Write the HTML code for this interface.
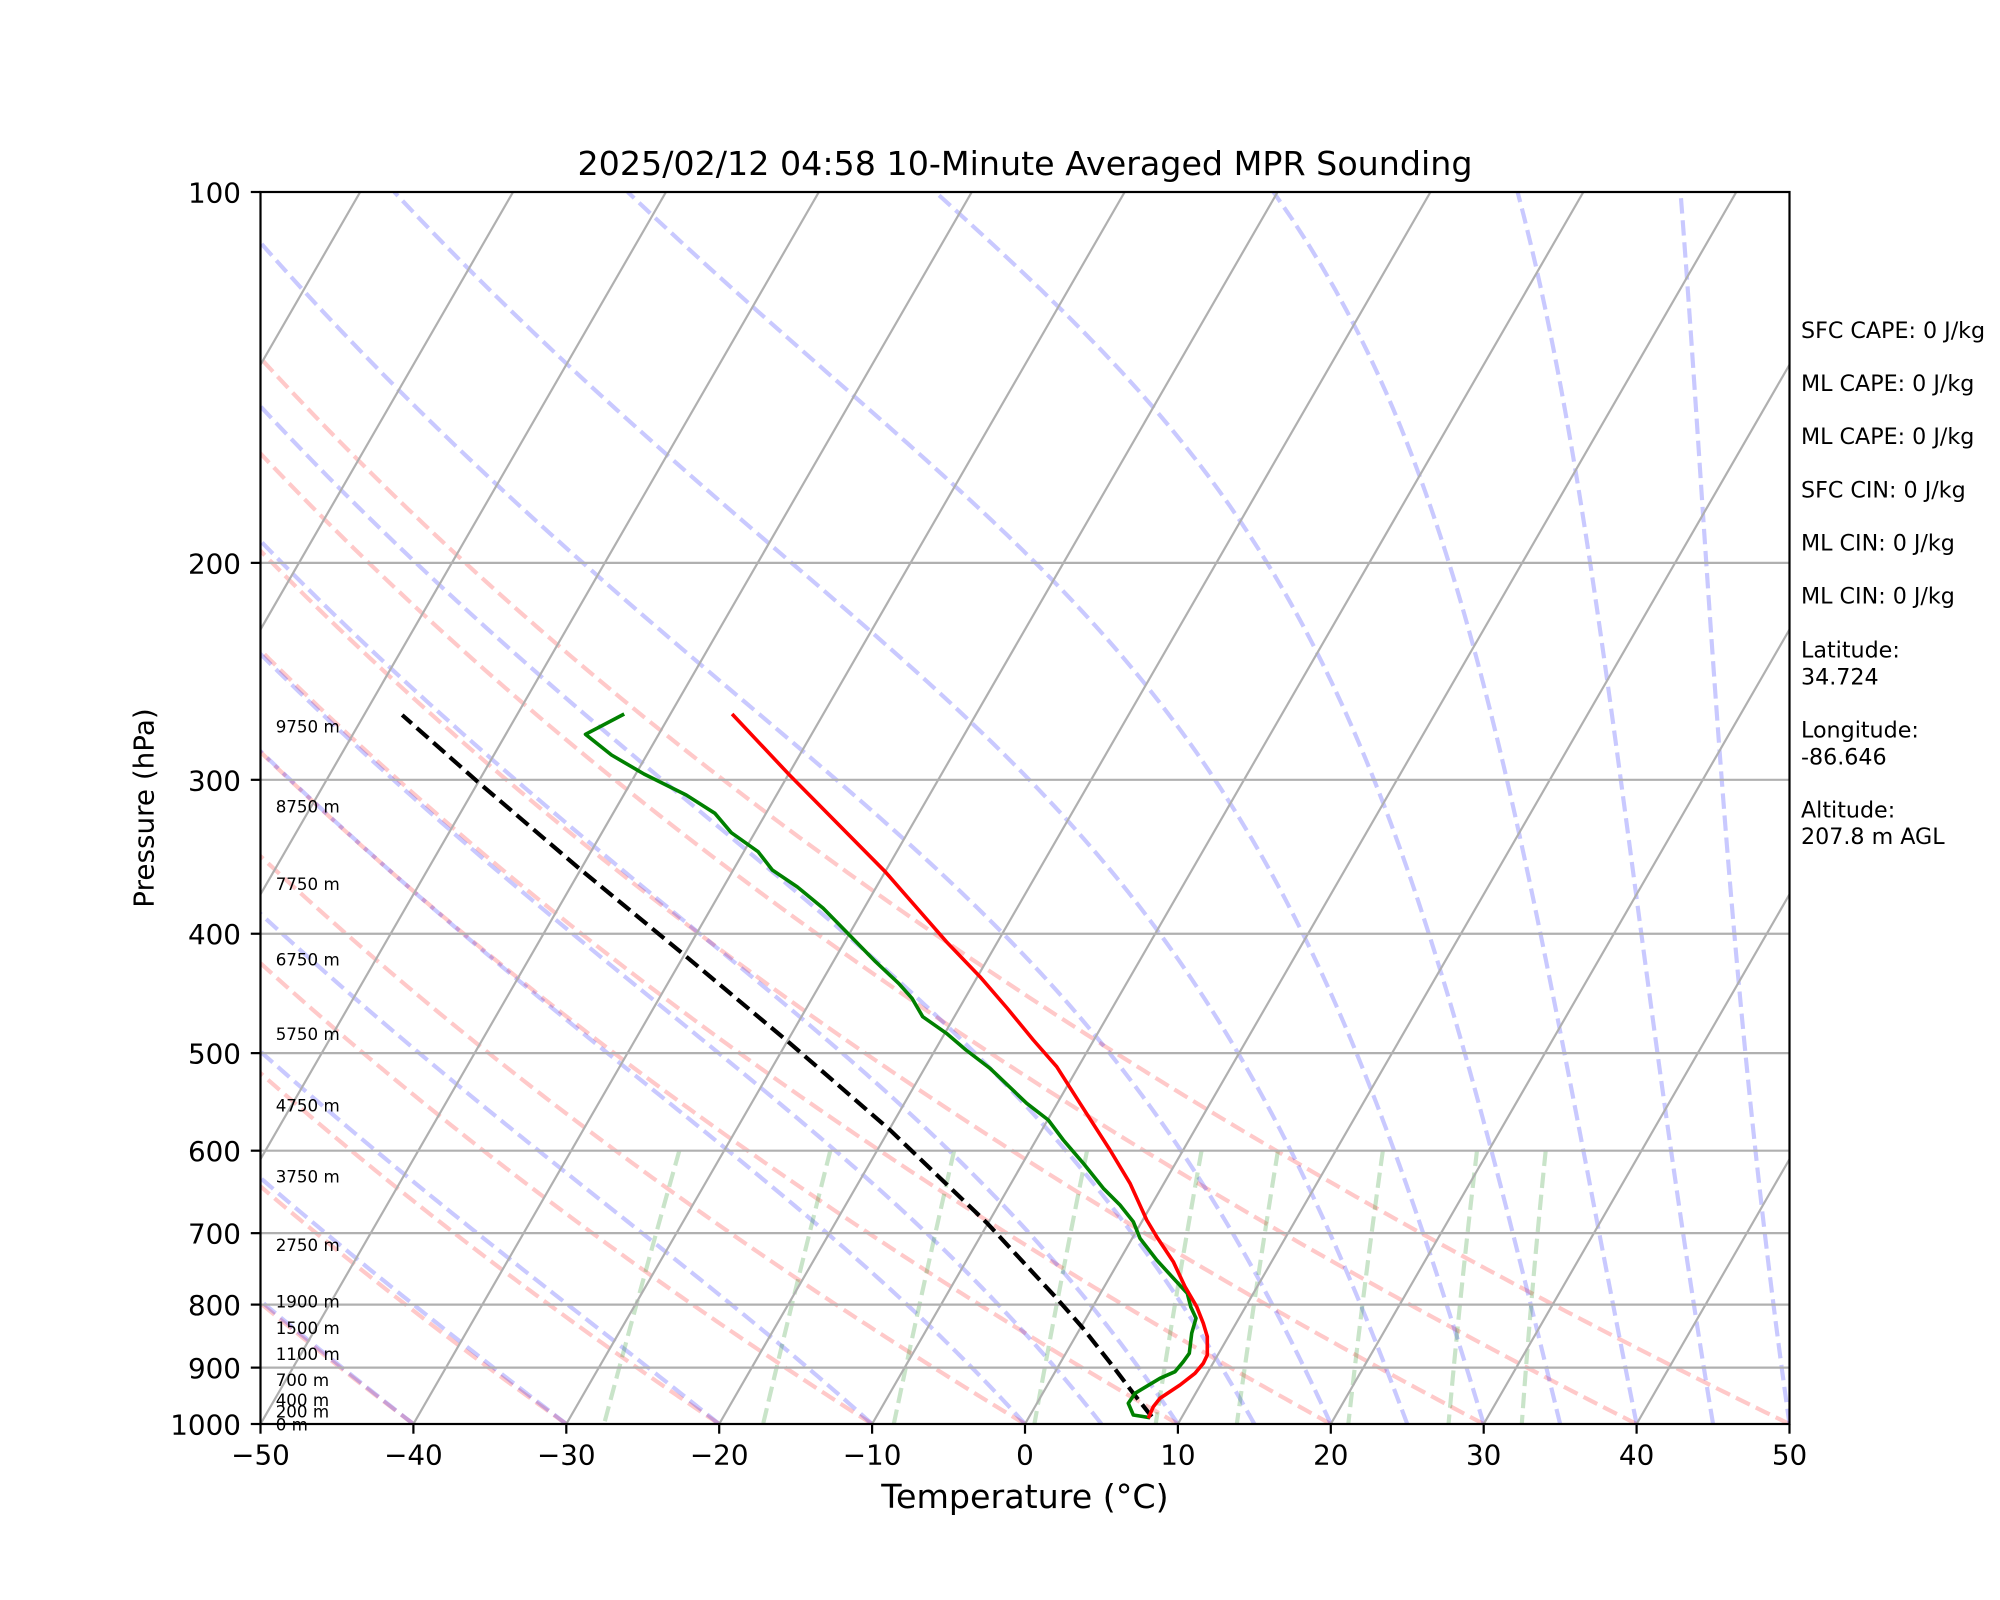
<!DOCTYPE html>
<html>
<head>
<meta charset="utf-8">
<style>
  html,body{margin:0;padding:0;background:#fff;}
  svg{display:block;}
  text{font-family:"DejaVu Sans","Liberation Sans",sans-serif;fill:#000;}
</style>
</head>
<body>
<svg id="chart" xmlns="http://www.w3.org/2000/svg" width="2000" height="1600" viewBox="0 0 2000 1600">
  <rect x="0" y="0" width="2000" height="1600" fill="#fff"/>
  <defs>
    <clipPath id="ax"><rect x="260.5" y="192" width="1529" height="1232"/></clipPath>
  </defs>

  <g id="bg" clip-path="url(#ax)"></g>

  <!-- horizontal gridlines -->
  <g id="hgrid" stroke="#b0b0b0" stroke-width="2.2" clip-path="url(#ax)"></g>
  <!-- skewed isotherm gridlines -->
  <g id="vgrid" stroke="#b0b0b0" stroke-width="2.2" clip-path="url(#ax)"></g>

  <!-- data -->
  <g clip-path="url(#ax)" fill="none">
    <polyline stroke="#000" stroke-width="4.17" stroke-dasharray="15.4 6.7" points="1151.7,1416.7 1133.3,1393.3 1113.3,1366.7 1081.7,1326.7 1056.7,1298.3 986.7,1222.7 890,1130 790,1043.3 682.3,953.3 579,868.3 477.6,781.7 402.2,715"/>
    <polyline stroke="#008000" stroke-width="3.6" stroke-linejoin="round" points="624.2,714 585.5,734.3 611.5,755 644,774 686.2,795 714.9,813.3 731.3,832.7 758.1,851.7 772.3,870 797.1,886.7 823.2,908.3 847.7,933.3 875.6,961.7 898.6,983.3 912,998.3 922.7,1016.7 946.4,1033.3 966,1050 990,1068.3 1026.7,1103.3 1048.3,1120 1063.3,1140 1083.3,1163.3 1103.3,1188.3 1120,1205 1133.3,1221.7 1140,1238.3 1156.7,1260 1175,1280 1187.3,1293.3 1190.7,1306.7 1196,1318.3 1191.7,1333.3 1189.3,1353.3 1183.3,1361.7 1175,1371.7 1160,1378.3 1143.3,1388.3 1135,1393.3 1128.3,1403.3 1133.3,1415 1150,1417.7"/>
    <polyline stroke="#ff0000" stroke-width="3.6" stroke-linejoin="round" points="732.1,714 789.5,775 885.2,871.7 946.4,941.7 980,976.7 1007,1008 1033.3,1040 1056.7,1066.7 1080,1103.3 1110,1150 1130,1183.3 1146.7,1220 1156.7,1236.7 1173.3,1261.7 1185,1286.7 1196.7,1306.7 1203.3,1323.3 1207.3,1336.7 1207.3,1355 1203.3,1363.3 1195,1373.3 1180,1385 1160,1398.3 1153.3,1406.7 1148.3,1418.3"/>
  </g>

  <!-- height labels -->
  <g font-size="16.7">
    <text x="275.7" y="732.3">9750 m</text>
    <text x="275.7" y="812.3">8750 m</text>
    <text x="275.7" y="890">7750 m</text>
    <text x="275.7" y="965.7">6750 m</text>
    <text x="275.7" y="1040">5750 m</text>
    <text x="275.7" y="1111.7">4750 m</text>
    <text x="275.7" y="1182.3">3750 m</text>
    <text x="275.7" y="1251">2750 m</text>
    <text x="275.7" y="1307.7">1900 m</text>
    <text x="275.7" y="1334">1500 m</text>
    <text x="275.7" y="1360">1100 m</text>
    <text x="275.7" y="1386">700 m</text>
    <text x="275.7" y="1406">400 m</text>
    <text x="275.7" y="1417.7">200 m</text>
    <text x="275.7" y="1430.7">0 m</text>
  </g>

  <!-- axes frame -->
  <rect x="260.5" y="192" width="1529" height="1232" fill="none" stroke="#000" stroke-width="2.2"/>

  <!-- ticks -->
  <g id="ticks" stroke="#000" stroke-width="2.2"></g>

  <!-- y tick labels -->
  <g font-size="27.8" text-anchor="end">
    <text x="241" y="202.5">100</text>
    <text x="241" y="573.4">200</text>
    <text x="241" y="790.3">300</text>
    <text x="241" y="944.2">400</text>
    <text x="241" y="1063.6">500</text>
    <text x="241" y="1161.2">600</text>
    <text x="241" y="1243.7">700</text>
    <text x="241" y="1315.1">800</text>
    <text x="241" y="1378.1">900</text>
    <text x="241" y="1434.5">1000</text>
  </g>

  <!-- x tick labels -->
  <g font-size="27.8" text-anchor="middle">
    <text x="260.5" y="1464.5">−50</text>
    <text x="413.4" y="1464.5">−40</text>
    <text x="566.3" y="1464.5">−30</text>
    <text x="719.2" y="1464.5">−20</text>
    <text x="872.1" y="1464.5">−10</text>
    <text x="1025" y="1464.5">0</text>
    <text x="1177.9" y="1464.5">10</text>
    <text x="1330.8" y="1464.5">20</text>
    <text x="1483.7" y="1464.5">30</text>
    <text x="1636.6" y="1464.5">40</text>
    <text x="1789.5" y="1464.5">50</text>
  </g>

  <!-- title and axis labels -->
  <text x="1025" y="175" font-size="33.3" text-anchor="middle">2025/02/12 04:58 10-Minute Averaged MPR Sounding</text>
  <text x="1025" y="1508" font-size="33.3" text-anchor="middle">Temperature (°C)</text>
  <text transform="translate(153.3,808) rotate(-90)" font-size="27.8" text-anchor="middle">Pressure (hPa)</text>

  <!-- right side info -->
  <g font-size="22.2">
    <text x="1801" y="338">SFC CAPE: 0 J/kg</text>
    <text x="1801" y="391.1">ML CAPE: 0 J/kg</text>
    <text x="1801" y="444.2">ML CAPE: 0 J/kg</text>
    <text x="1801" y="497.3">SFC CIN: 0 J/kg</text>
    <text x="1801" y="550.4">ML CIN: 0 J/kg</text>
    <text x="1801" y="603.4">ML CIN: 0 J/kg</text>
    <text x="1801" y="657.7">Latitude:</text>
    <text x="1801" y="684.7">34.724</text>
    <text x="1801" y="737.7">Longitude:</text>
    <text x="1801" y="764.7">-86.646</text>
    <text x="1801" y="817.7">Altitude:</text>
    <text x="1801" y="844.2">207.8 m AGL</text>
  </g>
</svg>
<script>
(function(){
  var NS="http://www.w3.org/2000/svg";
  var L=260.5,TOP=192,B=1424,H=1232,PX=15.29,TAN=Math.tan(Math.PI/6);
  function Y(p){return TOP+H*Math.log10(p/100);}
  function X(t,p){return L+(t+50)*PX+TAN*(B-Y(p));}
  function mk(tag,attrs,parent){var e=document.createElementNS(NS,tag);for(var k in attrs)e.setAttribute(k,attrs[k]);parent.appendChild(e);return e;}
  function path(pts){var d="";for(var i=0;i<pts.length;i++){d+=(i?"L":"M")+pts[i][0].toFixed(2)+","+pts[i][1].toFixed(2);}return d;}
  var bg=document.getElementById("bg");
  var dash="15.4 6.7", sw="4.17", op="0.21";
  // dry adiabats
  var kappa=287.04749/1004.6662;
  for(var t0=-50;t0<=50;t0+=10){
    var pts=[];
    for(var i=0;i<=200;i++){var p=1000-900*i/200;var T=(t0+273.15)*Math.pow(p/1000,kappa)-273.15;pts.push([X(T,p),Y(p)]);}
    mk("path",{d:path(pts),fill:"none",stroke:"#ff0000","stroke-opacity":op,"stroke-width":sw,"stroke-dasharray":dash},bg);
  }
  // moist adiabats
  var Rd=287.04749,Cp=1004.6662,Lv=2.50084e6,eps=0.6219569;
  function es(TK){return 6.112*Math.exp(17.67*(TK-273.15)/(TK-29.65));}
  function f(p,T){var e=es(T);var rs=eps*e/(p-e);return (Rd*T+Lv*rs)/(Cp+Lv*Lv*rs*eps/(Rd*T*T))/p;}
  var mts=[-50,-40,-30,-20,-10,0,5,10,15,20,25,30,35,40,45,50];
  for(var j=0;j<mts.length;j++){
    var T=mts[j]+273.15,p=1000,h=-1,pts=[[X(T-273.15,p),Y(p)]];
    for(var s=0;s<900;s++){
      var k1=f(p,T),k2=f(p+h/2,T+h*k1/2),k3=f(p+h/2,T+h*k2/2),k4=f(p+h,T+h*k3);
      T+=h*(k1+2*k2+2*k3+k4)/6;p+=h;
      if(s%5==4)pts.push([X(T-273.15,p),Y(p)]);
    }
    mk("path",{d:path(pts),fill:"none",stroke:"#0000ff","stroke-opacity":op,"stroke-width":sw,"stroke-dasharray":dash},bg);
  }
  // mixing ratio lines
  var ws=[0.0004,0.001,0.002,0.004,0.007,0.01,0.016,0.024,0.032];
  for(var m=0;m<ws.length;m++){
    var pts=[];
    for(var i=0;i<=50;i++){var p=600+400*i/50;var e=p*ws[m]/(eps+ws[m]);var v=Math.log(e/6.112);var td=243.5*v/(17.67-v);pts.push([X(td,p),Y(p)]);}
    mk("path",{d:path(pts),fill:"none",stroke:"#008000","stroke-opacity":"0.21","stroke-width":sw,"stroke-dasharray":dash},bg);
  }
  // horizontal grid
  var hg=document.getElementById("hgrid");
  for(var p=200;p<=900;p+=100){var y=Y(p);mk("line",{x1:260.5,y1:y,x2:1789.5,y2:y},hg);}
  // isotherm grid
  var vg=document.getElementById("vgrid");
  for(var t=-100;t<=50;t+=10){mk("line",{x1:X(t,1000),y1:B,x2:X(t,100),y2:TOP},vg);}
  // ticks
  var tk=document.getElementById("ticks");
  for(var t=-50;t<=50;t+=10){var x=L+(t+50)*PX;mk("line",{x1:x,y1:B,x2:x,y2:B+9.7},tk);}
  for(var p=100;p<=1000;p+=100){var y=Y(p);mk("line",{x1:L-9.7,y1:y,x2:L,y2:y},tk);}
})();
</script>
</body>
</html>
